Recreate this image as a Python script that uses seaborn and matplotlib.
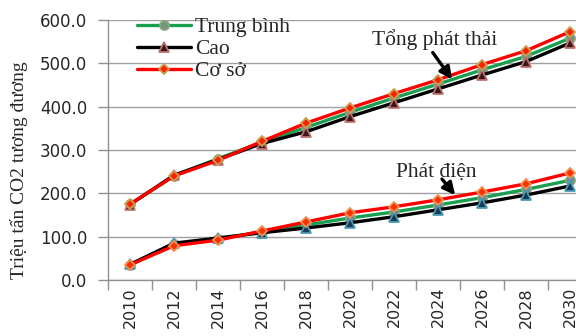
import matplotlib
matplotlib.use("Agg")
import matplotlib.pyplot as plt
import seaborn as sns
import pandas as pd
import numpy as np

years = ['2010', '2012', '2014', '2016', '2018', '2020', '2022', '2024', '2026', '2028', '2030']
tong_trung_binh = [175, 240, 280, 318, 352, 387, 420, 452, 485, 516, 558]
tong_cao = [174, 242, 278, 315, 342, 377, 409, 441, 473, 504, 547]
tong_co_so = [175, 240, 276, 320, 362, 397, 430, 462, 497, 529, 573]
dien_trung_binh = [35, 82, 95, 111, 127, 143, 157, 173, 190, 209, 230]
dien_cao = [36, 85, 97, 109, 120, 132, 146, 162, 178, 196, 217]
dien_co_so = [35, 79, 92, 113, 134, 155, 169, 185, 203, 222, 247]
y_ticks = [0, 100, 200, 300, 400, 500, 600]

sns.set_theme(style="white")
plt.rcParams['font.family'] = ['DejaVu Sans']

fig = plt.figure(figsize=(5.76, 3.36), dpi=100)
ax = fig.add_axes([108/576, 1-280/336, 484/576, 260/336])

x = np.arange(len(years))
styles = [
    # (values, label, line color, marker, face, edge)
    (tong_trung_binh, 'Trung bình', '#1a9e50', 'o', '#6f9a7a', '#8fa080'),
    (tong_cao, 'Cao', '#000000', '^', '#3a1818', '#c07070'),
    (tong_co_so, 'Cơ sở', '#ff0000', 'D', '#ff2000', '#c8a050'),
    (dien_trung_binh, None, '#1a9e50', 'o', '#5b8fa8', '#8fa080'),
    (dien_cao, None, '#000000', '^', '#1a3a5a', '#4a9ab0'),
    (dien_co_so, None, '#ff0000', 'D', '#ff3000', '#f09050'),
]
for vals, lab, lc, mk, fc, ec in styles:
    df = pd.DataFrame({'x': x, 'y': vals})
    sns.lineplot(data=df, x='x', y='y', ax=ax, color=lc, linewidth=2.4,
                 marker=mk, markersize=6.5 if mk != 'D' else 5.5,
                 markerfacecolor=fc, markeredgecolor=ec, markeredgewidth=1.3,
                 label=lab, legend=False)

ax.set_xlim(-0.5, len(years) - 0.5)
ax.set_ylim(0, 600)
ax.set_yticks(y_ticks)
ax.set_yticklabels([f"{v:.1f}" for v in y_ticks], fontsize=12)
ax.set_xticks(np.arange(len(years) + 1) - 0.5)
ax.set_xticklabels([])
ax.set_xticks(x, minor=True)
ax.set_xticklabels(years, minor=True, rotation=90, fontsize=11.5)
ax.tick_params(axis='x', which='major', length=7, width=1, color='#909090', direction='out', bottom=True)
ax.tick_params(axis='x', which='minor', length=0, pad=5)
ax.tick_params(axis='y', length=7, width=1, color='#909090', direction='out', left=True, pad=8)
ax.set_xlabel('')
ax.set_ylabel('Triệu tấn CO2 tương đương', fontsize=14, family='Liberation Serif')
ax.yaxis.set_label_coords(-0.165, 0.423)

ax.grid(axis='y', color='#a0a0a0', linewidth=1)
ax.grid(axis='x', visible=False)
for s in ['top', 'right']:
    ax.spines[s].set_visible(False)
for s in ['left', 'bottom']:
    ax.spines[s].set_color('#909090')
    ax.spines[s].set_linewidth(1)

leg = ax.legend(loc='upper left', bbox_to_anchor=(0.06, 1.01), frameon=False,
                prop={'family': 'Liberation Serif', 'size': 15.5}, handlelength=2.5,
                handletextpad=0.2, labelspacing=0.08, borderaxespad=0, borderpad=0)

ax.text(6.93, 554, 'Tổng phát thải', fontsize=15.5, family='Liberation Serif',
        ha='center', va='center')
ax.annotate('', xy=(7.32, 463), xytext=(6.88, 525),
            arrowprops=dict(arrowstyle='-|>', color='black', lw=2.4, mutation_scale=18,
                            shrinkA=0, shrinkB=0))
ax.text(6.95, 249, 'Phát điện', fontsize=15.5, family='Liberation Serif',
        ha='center', va='center')
ax.annotate('', xy=(7.39, 196), xytext=(7.09, 233),
            arrowprops=dict(arrowstyle='-|>', color='black', lw=2.4, mutation_scale=18,
                            shrinkA=0, shrinkB=0))

fig.savefig('out.png', dpi=100)
